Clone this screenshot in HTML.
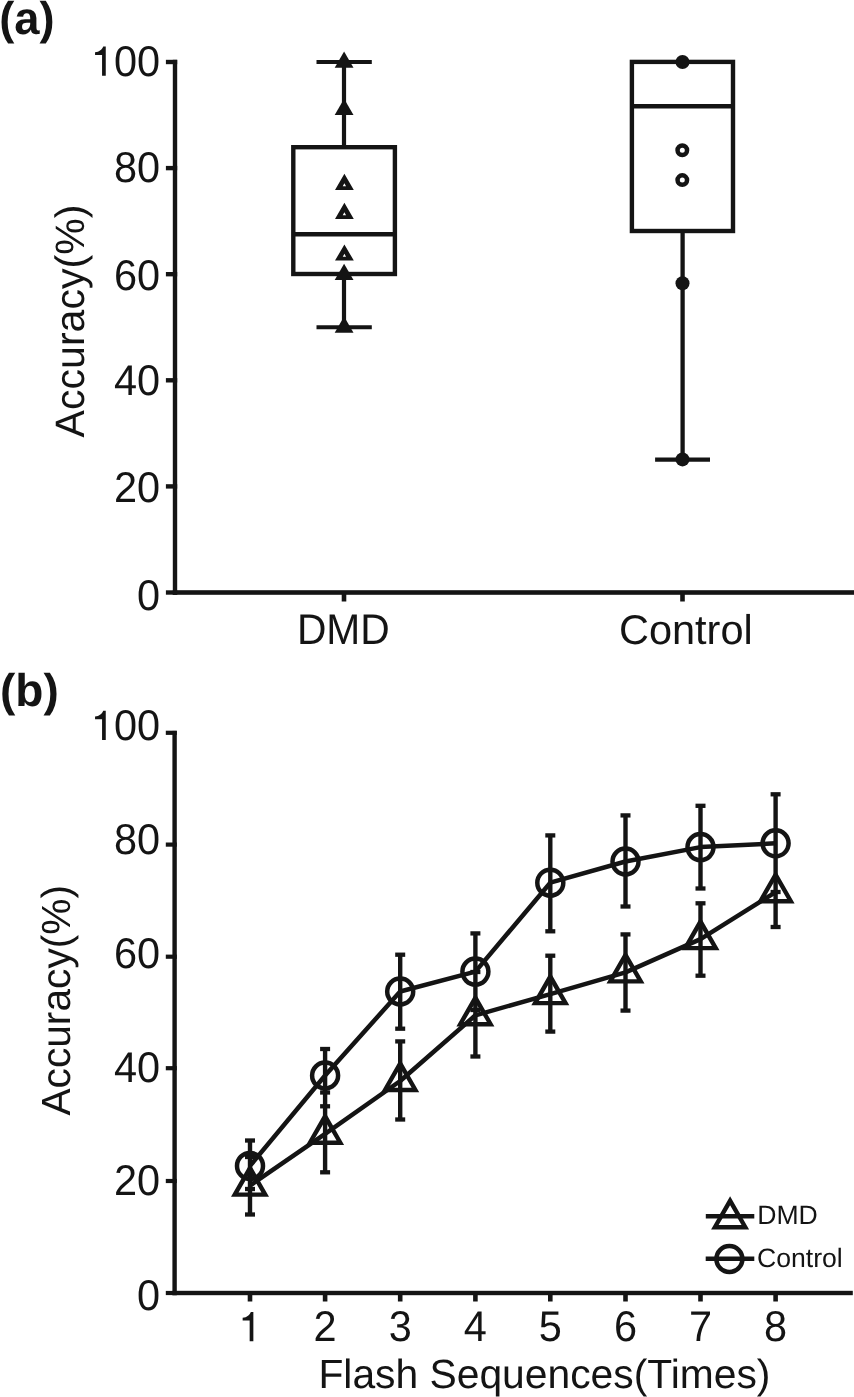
<!DOCTYPE html>
<html><head><meta charset="utf-8"><style>
html,body{margin:0;padding:0;background:#fff;}
svg{display:block;will-change:transform;}
text{font-family:"Liberation Sans",sans-serif;fill:#141414;text-rendering:geometricPrecision;}
</style></head><body>
<svg width="854" height="1397" viewBox="0 0 854 1397" fill="#141414">
<rect x="172.80" y="59.80" width="4.40" height="535.00"/>
<rect x="165.90" y="59.80" width="11.30" height="4.40"/>
<rect x="165.90" y="165.90" width="11.30" height="4.40"/>
<rect x="165.90" y="272.00" width="11.30" height="4.40"/>
<rect x="165.90" y="378.10" width="11.30" height="4.40"/>
<rect x="165.90" y="484.20" width="11.30" height="4.40"/>
<rect x="165.90" y="590.30" width="11.30" height="4.40"/>
<rect x="172.80" y="590.20" width="681.20" height="4.60"/>
<rect x="341.70" y="592.00" width="4.60" height="9.50"/>
<rect x="680.20" y="592.00" width="4.60" height="9.50"/>
<path transform="translate(90.86,75.80) scale(41.5)" d="M0.359,0 L0.359,-0.708 L0.298,-0.708 C0.275,-0.645 0.205,-0.578 0.101,-0.566 L0.101,-0.504 L0.270,-0.504 L0.270,0 Z"/>
<text transform="translate(160.10,75.80) scale(1.0,1.035)" font-size="41.5" text-anchor="end" font-weight="normal">00</text>
<text transform="translate(160.10,182.10) scale(1.0,1.035)" font-size="41.5" text-anchor="end" font-weight="normal">80</text>
<text transform="translate(160.10,289.80) scale(1.0,1.035)" font-size="41.5" text-anchor="end" font-weight="normal">60</text>
<text transform="translate(160.10,395.10) scale(1.0,1.035)" font-size="41.5" text-anchor="end" font-weight="normal">40</text>
<text transform="translate(160.10,502.40) scale(1.0,1.035)" font-size="41.5" text-anchor="end" font-weight="normal">20</text>
<text transform="translate(160.10,609.50) scale(1.0,1.035)" font-size="41.5" text-anchor="end" font-weight="normal">0</text>
<text transform="translate(343.30,643.90) scale(0.982,1.035)" font-size="41.5" text-anchor="middle" font-weight="normal">DMD</text>
<text transform="translate(685.80,643.90) scale(1.0,1.0)" font-size="41.5" text-anchor="middle" font-weight="normal">Control</text>
<text transform="translate(-0.80,34.30) scale(0.985,1.0)" font-size="46" text-anchor="start" font-weight="bold">(a)</text>
<text transform="translate(83.8,321) rotate(-90)" font-size="41.1" text-anchor="middle">Accuracy(%)</text>
<rect x="293.3" y="147.2" width="101.59999999999997" height="126.80000000000001" fill="none" stroke="#141414" stroke-width="4.4"/>
<line x1="293.30" y1="234.20" x2="394.90" y2="234.20" stroke="#141414" stroke-width="4.4" stroke-linecap="butt"/>
<line x1="344.00" y1="62.00" x2="344.00" y2="147.20" stroke="#141414" stroke-width="4.2" stroke-linecap="butt"/>
<line x1="344.00" y1="274.00" x2="344.00" y2="327.30" stroke="#141414" stroke-width="4.2" stroke-linecap="butt"/>
<line x1="316.50" y1="62.00" x2="371.80" y2="62.00" stroke="#141414" stroke-width="4.0" stroke-linecap="butt"/>
<line x1="316.50" y1="327.30" x2="371.80" y2="327.30" stroke="#141414" stroke-width="4.0" stroke-linecap="butt"/>
<path d="M334.70,67.80 L353.50,67.80 L344.10,51.60 Z" fill-rule="evenodd"/>
<path d="M334.70,114.90 L353.50,114.90 L344.10,98.70 Z" fill-rule="evenodd"/>
<path d="M334.70,280.00 L353.50,280.00 L344.10,263.80 Z" fill-rule="evenodd"/>
<path d="M334.70,332.70 L353.50,332.70 L344.10,316.50 Z" fill-rule="evenodd"/>
<path d="M335.00,190.00 L353.80,190.00 L344.40,173.80 Z M342.75,186.20 L344.40,183.20 L346.05,186.20 Z" fill-rule="evenodd"/>
<path d="M335.00,219.00 L353.80,219.00 L344.40,202.80 Z M342.75,215.20 L344.40,212.20 L346.05,215.20 Z" fill-rule="evenodd"/>
<path d="M335.00,260.60 L353.80,260.60 L344.40,244.40 Z M342.75,256.80 L344.40,253.80 L346.05,256.80 Z" fill-rule="evenodd"/>
<rect x="631.9" y="61.9" width="101.10000000000002" height="169.1" fill="none" stroke="#141414" stroke-width="4.4"/>
<line x1="631.90" y1="106.30" x2="733.00" y2="106.30" stroke="#141414" stroke-width="4.4" stroke-linecap="butt"/>
<line x1="682.60" y1="231.00" x2="682.60" y2="459.60" stroke="#141414" stroke-width="4.3" stroke-linecap="butt"/>
<line x1="655.10" y1="459.60" x2="710.00" y2="459.60" stroke="#141414" stroke-width="4.3" stroke-linecap="butt"/>
<circle cx="682.5" cy="62.0" r="7.0"/>
<circle cx="682.5" cy="283.3" r="7.0"/>
<circle cx="682.5" cy="459.4" r="7.0"/>
<circle cx="682.3" cy="150.2" r="4.75" fill="none" stroke="#141414" stroke-width="4.5"/>
<circle cx="682.3" cy="180.1" r="4.75" fill="none" stroke="#141414" stroke-width="4.5"/>
<rect x="172.40" y="730.90" width="4.40" height="564.30"/>
<rect x="165.80" y="730.70" width="11.00" height="4.20"/>
<rect x="165.80" y="842.50" width="11.00" height="4.20"/>
<rect x="165.80" y="954.60" width="11.00" height="4.20"/>
<rect x="165.80" y="1066.10" width="11.00" height="4.20"/>
<rect x="165.80" y="1178.90" width="11.00" height="4.20"/>
<rect x="165.80" y="1290.90" width="11.00" height="4.20"/>
<rect x="172.40" y="1290.80" width="680.40" height="4.40"/>
<rect x="247.70" y="1293.00" width="4.60" height="8.50"/>
<rect x="322.80" y="1293.00" width="4.60" height="8.50"/>
<rect x="397.90" y="1293.00" width="4.60" height="8.50"/>
<rect x="473.10" y="1293.00" width="4.60" height="8.50"/>
<rect x="548.00" y="1293.00" width="4.60" height="8.50"/>
<rect x="623.20" y="1293.00" width="4.60" height="8.50"/>
<rect x="698.20" y="1293.00" width="4.60" height="8.50"/>
<rect x="773.30" y="1293.00" width="4.60" height="8.50"/>
<path transform="translate(90.86,740.10) scale(41.5)" d="M0.359,0 L0.359,-0.708 L0.298,-0.708 C0.275,-0.645 0.205,-0.578 0.101,-0.566 L0.101,-0.504 L0.270,-0.504 L0.270,0 Z"/>
<text transform="translate(160.10,740.10) scale(1.0,1.035)" font-size="41.5" text-anchor="end" font-weight="normal">00</text>
<text transform="translate(160.10,854.30) scale(1.0,1.035)" font-size="41.5" text-anchor="end" font-weight="normal">80</text>
<text transform="translate(160.10,968.00) scale(1.0,1.035)" font-size="41.5" text-anchor="end" font-weight="normal">60</text>
<text transform="translate(160.10,1081.80) scale(1.0,1.035)" font-size="41.5" text-anchor="end" font-weight="normal">40</text>
<text transform="translate(160.10,1194.60) scale(1.0,1.035)" font-size="41.5" text-anchor="end" font-weight="normal">20</text>
<text transform="translate(160.10,1309.80) scale(1.0,1.035)" font-size="41.5" text-anchor="end" font-weight="normal">0</text>
<path transform="translate(238.46,1341.30) scale(41.5)" d="M0.359,0 L0.359,-0.708 L0.298,-0.708 C0.275,-0.645 0.205,-0.578 0.101,-0.566 L0.101,-0.504 L0.270,-0.504 L0.270,0 Z"/>
<text transform="translate(325.10,1341.30) scale(1.0,1.035)" font-size="41.5" text-anchor="middle" font-weight="normal">2</text>
<text transform="translate(400.20,1341.30) scale(1.0,1.035)" font-size="41.5" text-anchor="middle" font-weight="normal">3</text>
<text transform="translate(475.40,1341.30) scale(1.0,1.035)" font-size="41.5" text-anchor="middle" font-weight="normal">4</text>
<text transform="translate(550.30,1341.30) scale(1.0,1.035)" font-size="41.5" text-anchor="middle" font-weight="normal">5</text>
<text transform="translate(625.50,1341.30) scale(1.0,1.035)" font-size="41.5" text-anchor="middle" font-weight="normal">6</text>
<text transform="translate(700.50,1341.30) scale(1.0,1.035)" font-size="41.5" text-anchor="middle" font-weight="normal">7</text>
<text transform="translate(775.60,1341.30) scale(1.0,1.035)" font-size="41.5" text-anchor="middle" font-weight="normal">8</text>
<text transform="translate(544.40,1387.70) scale(1.0,1.0)" font-size="40.8" text-anchor="middle" font-weight="normal">Flash Sequences(Times)</text>
<text transform="translate(0.00,705.90) scale(1.0,1.0)" font-size="46" text-anchor="start" font-weight="bold">(b)</text>
<text transform="translate(70.0,1000.3) rotate(-90)" font-size="40.7" text-anchor="middle">Accuracy(%)</text>
<line x1="250.00" y1="1140.50" x2="250.00" y2="1214.50" stroke="#141414" stroke-width="4.4" stroke-linecap="butt"/>
<rect x="245.00" y="1138.35" width="10.00" height="4.30"/>
<rect x="245.00" y="1154.85" width="10.00" height="4.30"/>
<rect x="245.00" y="1186.85" width="10.00" height="4.30"/>
<rect x="245.00" y="1212.35" width="10.00" height="4.30"/>
<line x1="325.10" y1="1049.00" x2="325.10" y2="1172.30" stroke="#141414" stroke-width="4.4" stroke-linecap="butt"/>
<rect x="320.10" y="1046.85" width="10.00" height="4.30"/>
<rect x="320.10" y="1090.35" width="10.00" height="4.30"/>
<rect x="320.10" y="1104.15" width="10.00" height="4.30"/>
<rect x="320.10" y="1170.15" width="10.00" height="4.30"/>
<line x1="400.20" y1="954.70" x2="400.20" y2="1028.70" stroke="#141414" stroke-width="4.4" stroke-linecap="butt"/>
<line x1="400.20" y1="1041.40" x2="400.20" y2="1119.50" stroke="#141414" stroke-width="4.4" stroke-linecap="butt"/>
<rect x="395.20" y="952.55" width="10.00" height="4.30"/>
<rect x="395.20" y="1026.55" width="10.00" height="4.30"/>
<rect x="395.20" y="1039.25" width="10.00" height="4.30"/>
<rect x="395.20" y="1117.35" width="10.00" height="4.30"/>
<line x1="475.40" y1="933.40" x2="475.40" y2="1056.50" stroke="#141414" stroke-width="4.4" stroke-linecap="butt"/>
<rect x="470.40" y="931.25" width="10.00" height="4.30"/>
<rect x="470.40" y="969.85" width="10.00" height="4.30"/>
<rect x="470.40" y="1007.85" width="10.00" height="4.30"/>
<rect x="470.40" y="1054.35" width="10.00" height="4.30"/>
<line x1="550.30" y1="835.40" x2="550.30" y2="931.30" stroke="#141414" stroke-width="4.4" stroke-linecap="butt"/>
<line x1="550.30" y1="955.70" x2="550.30" y2="1031.60" stroke="#141414" stroke-width="4.4" stroke-linecap="butt"/>
<rect x="545.30" y="833.25" width="10.00" height="4.30"/>
<rect x="545.30" y="929.15" width="10.00" height="4.30"/>
<rect x="545.30" y="953.55" width="10.00" height="4.30"/>
<rect x="545.30" y="1029.45" width="10.00" height="4.30"/>
<line x1="625.50" y1="815.40" x2="625.50" y2="906.50" stroke="#141414" stroke-width="4.4" stroke-linecap="butt"/>
<line x1="625.50" y1="934.40" x2="625.50" y2="1010.60" stroke="#141414" stroke-width="4.4" stroke-linecap="butt"/>
<rect x="620.50" y="813.25" width="10.00" height="4.30"/>
<rect x="620.50" y="904.35" width="10.00" height="4.30"/>
<rect x="620.50" y="932.25" width="10.00" height="4.30"/>
<rect x="620.50" y="1008.45" width="10.00" height="4.30"/>
<line x1="700.50" y1="805.80" x2="700.50" y2="888.50" stroke="#141414" stroke-width="4.4" stroke-linecap="butt"/>
<line x1="700.50" y1="903.30" x2="700.50" y2="975.70" stroke="#141414" stroke-width="4.4" stroke-linecap="butt"/>
<rect x="695.50" y="803.65" width="10.00" height="4.30"/>
<rect x="695.50" y="886.35" width="10.00" height="4.30"/>
<rect x="695.50" y="901.15" width="10.00" height="4.30"/>
<rect x="695.50" y="973.55" width="10.00" height="4.30"/>
<line x1="775.60" y1="794.30" x2="775.60" y2="927.00" stroke="#141414" stroke-width="4.4" stroke-linecap="butt"/>
<rect x="770.60" y="792.15" width="10.00" height="4.30"/>
<rect x="770.60" y="889.85" width="10.00" height="4.30"/>
<rect x="770.60" y="924.85" width="10.00" height="4.30"/>
<polyline points="250.00,1165.90 325.10,1075.50 400.20,991.50 475.40,971.60 550.30,882.70 625.50,861.50 700.50,847.10 775.60,843.30" fill="none" stroke="#141414" stroke-width="4.5" stroke-linejoin="round"/>
<polyline points="250.00,1185.60 325.10,1133.80 400.20,1081.00 475.40,1015.30 550.30,994.10 625.50,972.40 700.50,939.10 775.60,892.20" fill="none" stroke="#141414" stroke-width="4.5" stroke-linejoin="round"/>
<circle cx="250.00" cy="1165.90" r="13.0" fill="none" stroke="#141414" stroke-width="4.5"/>
<circle cx="325.10" cy="1075.50" r="13.0" fill="none" stroke="#141414" stroke-width="4.5"/>
<circle cx="400.20" cy="991.50" r="13.0" fill="none" stroke="#141414" stroke-width="4.5"/>
<circle cx="475.40" cy="971.60" r="13.0" fill="none" stroke="#141414" stroke-width="4.5"/>
<circle cx="550.30" cy="882.70" r="13.0" fill="none" stroke="#141414" stroke-width="4.5"/>
<circle cx="625.50" cy="861.50" r="13.0" fill="none" stroke="#141414" stroke-width="4.5"/>
<circle cx="700.50" cy="847.10" r="13.0" fill="none" stroke="#141414" stroke-width="4.5"/>
<circle cx="775.60" cy="843.30" r="13.0" fill="none" stroke="#141414" stroke-width="4.5"/>
<path d="M231.00,1196.80 L269.00,1196.80 L250.00,1163.60 Z M238.55,1192.40 L250.00,1172.70 L261.45,1192.40 Z" fill-rule="evenodd"/>
<path d="M306.10,1145.00 L344.10,1145.00 L325.10,1111.80 Z M313.65,1140.60 L325.10,1120.90 L336.55,1140.60 Z" fill-rule="evenodd"/>
<path d="M381.20,1092.20 L419.20,1092.20 L400.20,1059.00 Z M388.75,1087.80 L400.20,1068.10 L411.65,1087.80 Z" fill-rule="evenodd"/>
<path d="M456.40,1026.50 L494.40,1026.50 L475.40,993.30 Z M463.95,1022.10 L475.40,1002.40 L486.85,1022.10 Z" fill-rule="evenodd"/>
<path d="M531.30,1005.30 L569.30,1005.30 L550.30,972.10 Z M538.85,1000.90 L550.30,981.20 L561.75,1000.90 Z" fill-rule="evenodd"/>
<path d="M606.50,983.60 L644.50,983.60 L625.50,950.40 Z M614.05,979.20 L625.50,959.50 L636.95,979.20 Z" fill-rule="evenodd"/>
<path d="M681.50,950.30 L719.50,950.30 L700.50,917.10 Z M689.05,945.90 L700.50,926.20 L711.95,945.90 Z" fill-rule="evenodd"/>
<path d="M756.60,903.40 L794.60,903.40 L775.60,870.20 Z M764.15,899.00 L775.60,879.30 L787.05,899.00 Z" fill-rule="evenodd"/>
<line x1="705.80" y1="1216.30" x2="754.30" y2="1216.30" stroke="#141414" stroke-width="4.5" stroke-linecap="butt"/>
<path d="M711.10,1229.40 L749.10,1229.40 L730.10,1196.20 Z M718.65,1225.00 L730.10,1205.30 L741.55,1225.00 Z" fill-rule="evenodd"/>
<text transform="translate(757.20,1223.70) scale(1.0,1.0)" font-size="26.6" text-anchor="start" font-weight="normal">DMD</text>
<line x1="705.70" y1="1258.70" x2="754.30" y2="1258.70" stroke="#141414" stroke-width="4.5" stroke-linecap="butt"/>
<circle cx="729.40" cy="1259.00" r="13.0" fill="none" stroke="#141414" stroke-width="4.5"/>
<text transform="translate(757.00,1267.20) scale(1.0,1.0)" font-size="26.6" text-anchor="start" font-weight="normal">Control</text>
</svg>
</body></html>
